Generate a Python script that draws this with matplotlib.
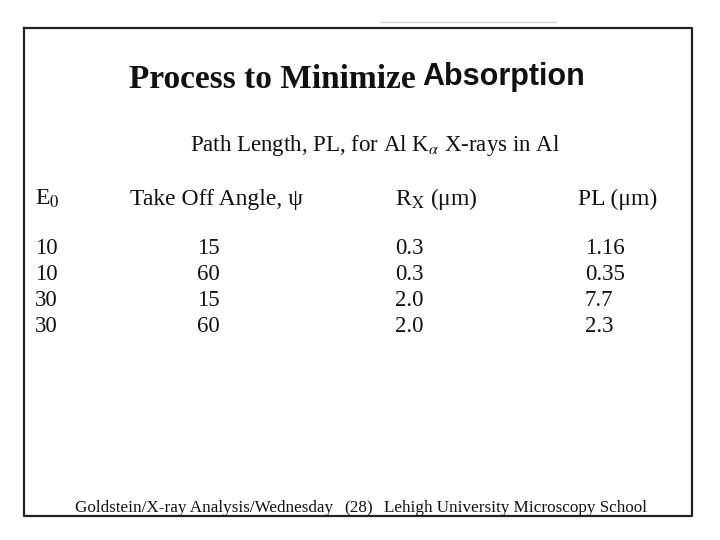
import matplotlib
matplotlib.use('Agg')
import matplotlib.pyplot as plt

# ── table data ───────────────────────────────────────────────
e0_kev = ['10', '10', '30', '30']
take_off_deg = ['15', '60', '15', '60']
rx_um = ['0.3', '0.3', '2.0', '2.0']
pl_um = ['1.16', '0.35', '7.7', '2.3']
headers = ['E$_0$', 'Take Off Angle, ψ', 'R$_\\mathrm{X}$ (μm)', 'PL (μm)']

plt.rcParams['mathtext.fontset'] = 'stix'
SERIF = 'Liberation Serif'
SANS = 'Liberation Sans'
INK = '#111111'

fig = plt.figure(figsize=(7.2, 5.4), dpi=100, facecolor='white')
ax = fig.add_axes([0, 0, 1, 1])
ax.set_xlim(0, 720)
ax.set_ylim(540, 0)
ax.axis('off')

# slide frame
ax.plot([24, 692, 692, 24, 24], [28, 28, 516, 516, 28], color='#222222', lw=1.6)
ax.plot([380, 556], [22, 22], color='#bbbbbb', lw=1.0, alpha=0.6)

# title: serif bold + sans bold
ax.text(416, 79, 'Process to Minimize', family=SERIF, weight='bold',
        fontsize=24, color=INK, ha='right', va='center')
ax.text(422, 77, 'Absorption', family=SANS, weight='bold',
        fontsize=22, color=INK, ha='left', va='center')

# subtitle
ax.text(375, 145, 'Path Length, PL, for Al K$_{\\alpha}$ X-rays in Al',
        family=SERIF, fontsize=16.5, color=INK, ha='center', va='center')

# header row
col_x = [35, 130, 395, 578]
for x, h in zip(col_x, headers):
    ax.text(x, 199, h, family=SERIF, fontsize=17, color=INK,
            ha='left', va='center')

# data rows
data_x = [35, 197, 395, 585]
row_y = [249, 275, 301, 327]
for i, y in enumerate(row_y):
    for x, col in zip(data_x, [e0_kev, take_off_deg, rx_um, pl_um]):
        ax.text(x, y, col[i], family=SERIF, fontsize=16.5, color=INK,
                ha='left', va='center')

# footer
ax.text(75, 508, 'Goldstein/X-ray Analysis/Wednesday', family=SERIF,
        fontsize=12.3, color=INK, ha='left', va='center')
ax.text(344, 508, '(28)', family=SERIF, fontsize=12.3, color=INK,
        ha='left', va='center')
ax.text(384, 508, 'Lehigh University Microscopy School', family=SERIF,
        fontsize=12.3, color=INK, ha='left', va='center')

fig.savefig('out.png', dpi=100, facecolor='white')
